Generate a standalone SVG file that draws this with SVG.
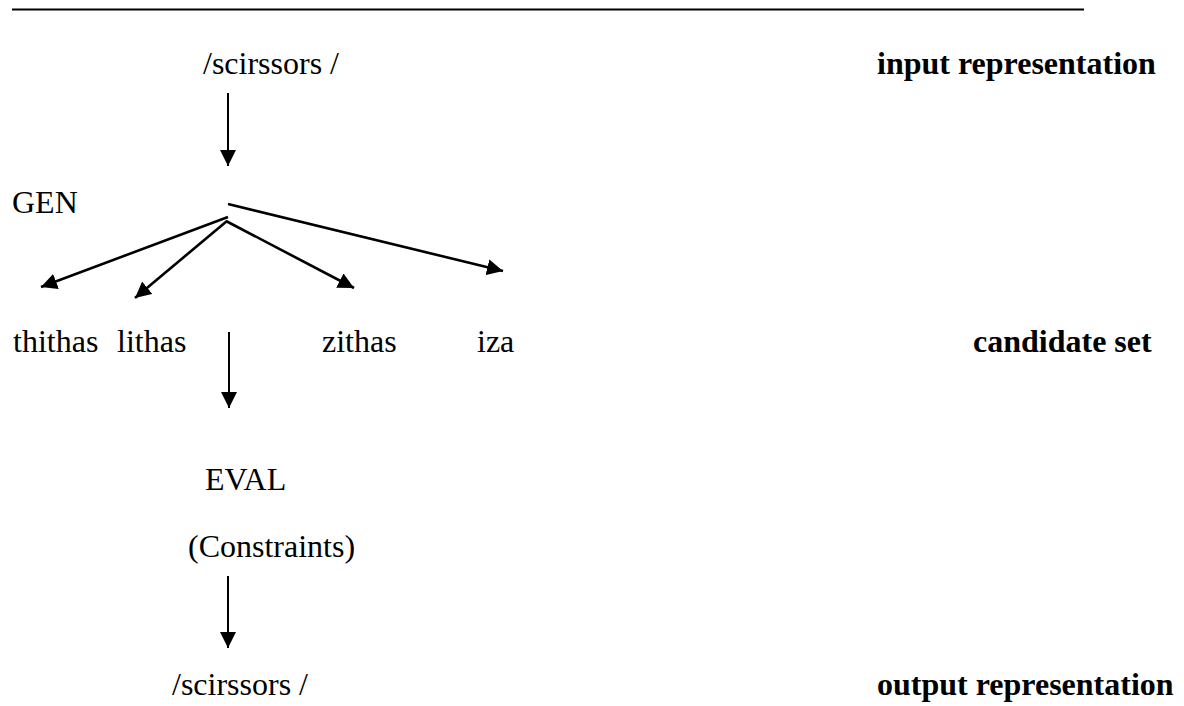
<svg xmlns="http://www.w3.org/2000/svg" width="1184" height="706" viewBox="0 0 1184 706">
  <style>
    .t { font-family: "Liberation Serif", "Times New Roman", serif; font-size: 32px; fill: #000; }
    .b { font-weight: bold; }
    .edge { stroke: #000; fill: none; marker-end: url(#head); }
    .v { stroke-width: 2; }
    .d { stroke-width: 2.6; }
  </style>
  <defs>
    <marker id="head" markerUnits="userSpaceOnUse" markerWidth="17" markerHeight="16" viewBox="0 0 17 16" refX="16" refY="8" orient="auto">
      <path d="M0,0 L16,8 L0,16 z" fill="#000"/>
    </marker>
  </defs>
  <rect width="1184" height="706" fill="#fff"/>

  <!-- rule across the top -->
  <line x1="12" y1="9.5" x2="1084" y2="9.5" stroke="#000" stroke-width="2"/>

  <g id="input">
    <text class="t" x="203" y="74">/scirssors /</text>
  </g>
  <g id="input-label">
    <text class="t b" x="877" y="74">input representation</text>
  </g>
  <g id="gen">
    <text class="t" x="12" y="213">GEN</text>
  </g>
  <g id="cand-thithas"><text class="t" x="13" y="352">thithas</text></g>
  <g id="cand-lithas"><text class="t" x="117" y="352">lithas</text></g>
  <g id="cand-zithas"><text class="t" x="322" y="352">zithas</text></g>
  <g id="cand-iza"><text class="t" x="477" y="352">iza</text></g>
  <g id="candidate-label">
    <text class="t b" x="973" y="352">candidate set</text>
  </g>
  <g id="eval">
    <text class="t" x="205" y="490">EVAL</text>
    <text class="t" x="188" y="557">(Constraints)</text>
  </g>
  <g id="output">
    <text class="t" x="172" y="695">/scirssors /</text>
  </g>
  <g id="output-label">
    <text class="t b" x="877" y="695">output representation</text>
  </g>

  <g id="connectors">
    <line class="edge v" x1="228" y1="93" x2="228" y2="166"/>
    <line class="edge d" x1="228" y1="204" x2="503" y2="271"/>
    <line class="edge d" x1="228" y1="217" x2="41" y2="287"/>
    <line class="edge d" x1="227" y1="221" x2="135" y2="298"/>
    <line class="edge d" x1="226" y1="221" x2="354" y2="288"/>
    <line class="edge v" x1="229" y1="332" x2="229" y2="408"/>
    <line class="edge v" x1="228" y1="576" x2="228" y2="648"/>
  </g>
</svg>
